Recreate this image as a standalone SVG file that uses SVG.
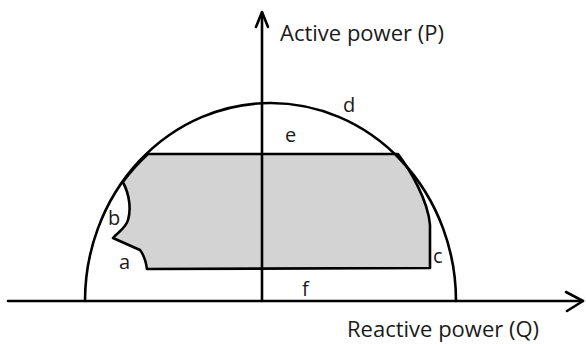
<svg xmlns="http://www.w3.org/2000/svg" width="586" height="344" viewBox="0 0 586 344">
<style>
.ln{fill:none;stroke:#000;stroke-width:2.6;stroke-linejoin:round;stroke-linecap:round}
.lbl{font-family:"Open Sans","Liberation Sans",sans-serif;font-size:20px;fill:#1a1a1a}
.big{font-size:22px}
</style>
<rect width="586" height="344" fill="#fff"/>
<g id="region">
<path d="M148,154 L398,154 C410,170 428,200 430,225 L430,268 L147,269 C146,262 144,255 140,250 L113,238 C118,232 126,228 128,220 C131,210 130,195 122.8,182 A185,198 0 0 1 148,154 Z" fill="#d3d3d3" stroke="#000" stroke-width="2.6" stroke-linejoin="round"/>
</g>
<g id="limit-circle">
<path class="ln" d="M85,301 A185.5,198 0 0 1 456,301"/>
</g>
<g id="connectors">
<line class="ln" x1="8" y1="301" x2="583" y2="301"/>
<polyline class="ln" points="566,292 583,301 567,311"/>
<line class="ln" x1="262" y1="301" x2="262" y2="13"/>
<polyline class="ln" points="256,27 262,12 268,27"/>
</g>
<g id="labels">
<text class="lbl big" x="280" y="41">Active power (P)</text>
<text class="lbl big" x="347" y="337">Reactive power (Q)</text>
<text class="lbl" x="343" y="112">d</text>
<text class="lbl" x="285" y="142">e</text>
<text class="lbl" x="108" y="225">b</text>
<text class="lbl" x="119" y="269">a</text>
<text class="lbl" x="433" y="263">c</text>
<text class="lbl" x="302" y="296">f</text>
</g>
</svg>
